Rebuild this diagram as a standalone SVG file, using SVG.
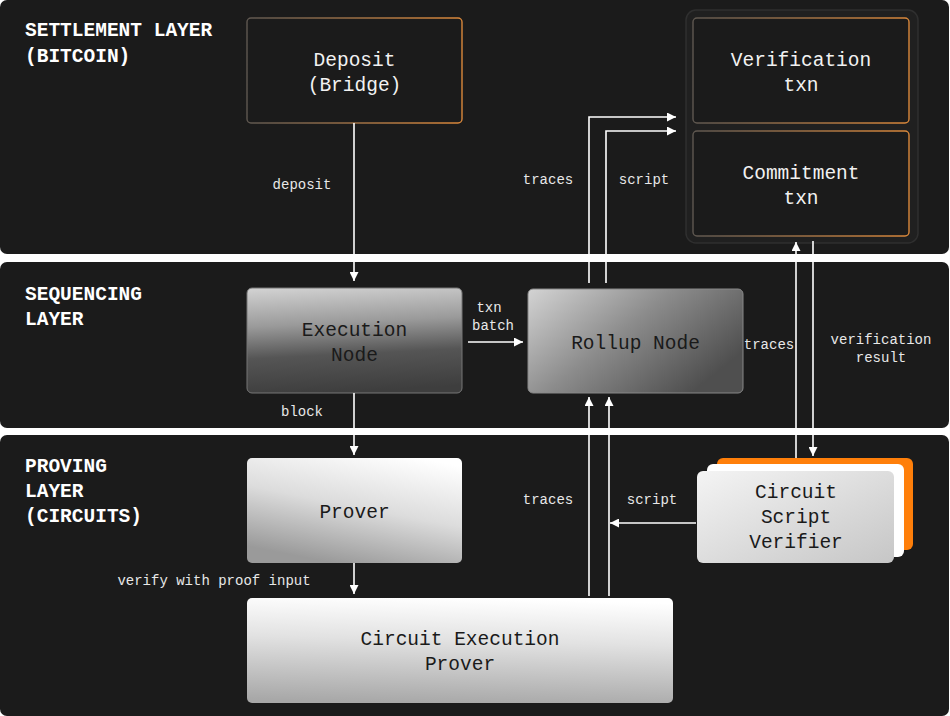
<svg xmlns="http://www.w3.org/2000/svg" width="950" height="716" viewBox="0 0 950 716">
<defs>
<style>
.panel{fill:#1b1b1b}
.lay{font-family:"Liberation Mono","DejaVu Sans Mono",monospace;font-weight:bold;font-size:19.5px;fill:#ffffff}
.nt{font-family:"Liberation Mono","DejaVu Sans Mono",monospace;font-size:19.5px;text-anchor:middle}
.lt{fill:#f2f2f2}
.dk{fill:#1a1a1a}
.lbl{font-family:"Liberation Mono","DejaVu Sans Mono",monospace;font-size:14px;fill:#e8e8e8;text-anchor:middle}
.conn{fill:none;stroke:#ffffff;stroke-width:1.6}
</style>
<marker id="ah" viewBox="0 0 10 10" refX="10" refY="5" markerUnits="userSpaceOnUse" markerWidth="9" markerHeight="9" orient="auto">
<path d="M0,0 L10,5 L0,10 z" fill="#ffffff"/>
</marker>
<linearGradient id="bord" x1="0" y1="0" x2="1" y2="0">
<stop offset="0" stop-color="#5e5750"/>
<stop offset="1" stop-color="#d9873a"/>
</linearGradient>
<linearGradient id="gExec" x1="0.2" y1="0" x2="0.3" y2="1">
<stop offset="0" stop-color="#d0d0d0"/>
<stop offset="0.35" stop-color="#9a9a9a"/>
<stop offset="0.65" stop-color="#555555"/>
<stop offset="1" stop-color="#3e3e3e"/>
</linearGradient>
<linearGradient id="gRoll" x1="0" y1="0" x2="1" y2="0.6">
<stop offset="0" stop-color="#d4d4d4"/>
<stop offset="0.5" stop-color="#8c8c8c"/>
<stop offset="1" stop-color="#4f4f4f"/>
</linearGradient>
<linearGradient id="gProv" x1="0.8" y1="0" x2="0.4" y2="1">
<stop offset="0" stop-color="#ffffff"/>
<stop offset="0.5" stop-color="#dcdcdc"/>
<stop offset="1" stop-color="#9a9a9a"/>
</linearGradient>
<linearGradient id="gCep" x1="0.5" y1="0" x2="0.4" y2="1">
<stop offset="0" stop-color="#ffffff"/>
<stop offset="0.4" stop-color="#e2e2e2"/>
<stop offset="1" stop-color="#a8a8a8"/>
</linearGradient>
<linearGradient id="gVer" x1="0" y1="0" x2="1" y2="1">
<stop offset="0" stop-color="#f4f4f4"/>
<stop offset="1" stop-color="#c6c6c6"/>
</linearGradient>
</defs>
<rect x="0" y="0" width="950" height="716" fill="#ffffff"/>
<g id="panels">
<rect class="panel" x="0" y="0" width="949" height="254" rx="7"/>
<rect class="panel" x="0" y="262" width="949" height="166" rx="7"/>
<rect class="panel" x="0" y="435" width="949" height="281" rx="7"/>
</g>
<g id="layer-labels">
<text class="lay" x="25" y="36">SETTLEMENT LAYER</text>
<text class="lay" x="25" y="62">(BITCOIN)</text>
<text class="lay" x="25" y="300">SEQUENCING</text>
<text class="lay" x="25" y="325">LAYER</text>
<text class="lay" x="25" y="472">PROVING</text>
<text class="lay" x="25" y="497">LAYER</text>
<text class="lay" x="25" y="522">(CIRCUITS)</text>
</g>
<g id="settlement-group">
<rect x="686" y="10" width="232" height="233" rx="10" fill="#202020" stroke="#2f2f2f" stroke-width="1.5"/>
</g>
<g id="deposit">
<rect x="247" y="18" width="215" height="105" rx="4" fill="#1b1b1b" stroke="url(#bord)" stroke-width="1.4"/>
<text class="nt lt" x="354.5" y="66">Deposit</text>
<text class="nt lt" x="354.5" y="91">(Bridge)</text>
</g>
<g id="verification-txn">
<rect x="693" y="18" width="216" height="105" rx="4" fill="#1b1b1b" stroke="url(#bord)" stroke-width="1.4"/>
<text class="nt lt" x="801" y="66">Verification</text>
<text class="nt lt" x="801" y="91">txn</text>
</g>
<g id="commitment-txn">
<rect x="693" y="131" width="216" height="105" rx="4" fill="#1b1b1b" stroke="url(#bord)" stroke-width="1.4"/>
<text class="nt lt" x="801" y="179">Commitment</text>
<text class="nt lt" x="801" y="204">txn</text>
</g>
<g id="execution-node">
<rect x="247" y="288" width="215" height="105" rx="5" fill="url(#gExec)" stroke="#777" stroke-width="1"/>
<text class="nt dk" x="354.5" y="336">Execution</text>
<text class="nt dk" x="354.5" y="361">Node</text>
</g>
<g id="rollup-node">
<rect x="528" y="289" width="215" height="104" rx="5" fill="url(#gRoll)" stroke="#888" stroke-width="1"/>
<text class="nt dk" x="635.5" y="349">Rollup Node</text>
</g>
<g id="prover">
<rect x="247" y="458" width="215" height="105" rx="5" fill="url(#gProv)"/>
<text class="nt dk" x="354.5" y="518">Prover</text>
</g>
<g id="circuit-execution-prover">
<rect x="247" y="598" width="426" height="105" rx="5" fill="url(#gCep)"/>
<text class="nt dk" x="460" y="645">Circuit Execution</text>
<text class="nt dk" x="460" y="670">Prover</text>
</g>
<g id="circuit-script-verifier">
<rect x="717" y="458" width="196" height="92" rx="6" fill="#ff7f0a"/>
<rect x="707" y="464" width="197" height="93" rx="6" fill="#ffffff"/>
<rect x="697" y="471" width="197" height="92" rx="6" fill="url(#gVer)"/>
<text class="nt dk" x="796" y="498">Circuit</text>
<text class="nt dk" x="796" y="523">Script</text>
<text class="nt dk" x="796" y="548">Verifier</text>
</g>
<g id="connectors">
<path class="conn" d="M354 123 V281" marker-end="url(#ah)"/>
<path class="conn" d="M354 393 V455" marker-end="url(#ah)"/>
<path class="conn" d="M354 563 V594" marker-end="url(#ah)"/>
<path class="conn" d="M468 342 H523" marker-end="url(#ah)"/>
<path class="conn" d="M589 283 V117 H676" marker-end="url(#ah)"/>
<path class="conn" d="M606 283 V131 H676" marker-end="url(#ah)"/>
<path class="conn" d="M589 596 V397" marker-end="url(#ah)"/>
<path class="conn" d="M609 596 V397" marker-end="url(#ah)"/>
<path class="conn" d="M696 523 H610" marker-end="url(#ah)"/>
<path class="conn" d="M796 458 V242" marker-end="url(#ah)"/>
<path class="conn" d="M813 241 V456" marker-end="url(#ah)"/>
</g>
<g id="connector-labels">
<text class="lbl" x="302" y="189">deposit</text>
<text class="lbl" x="548" y="184">traces</text>
<text class="lbl" x="644" y="184">script</text>
<text class="lbl" x="489" y="312">txn</text>
<text class="lbl" x="493" y="330">batch</text>
<text class="lbl" x="769" y="349">traces</text>
<text class="lbl" x="881" y="344">verification</text>
<text class="lbl" x="881" y="362">result</text>
<text class="lbl" x="302" y="416">block</text>
<text class="lbl" x="548" y="504">traces</text>
<text class="lbl" x="652" y="504">script</text>
<text class="lbl" x="214" y="585">verify with proof input</text>
</g>
</svg>
